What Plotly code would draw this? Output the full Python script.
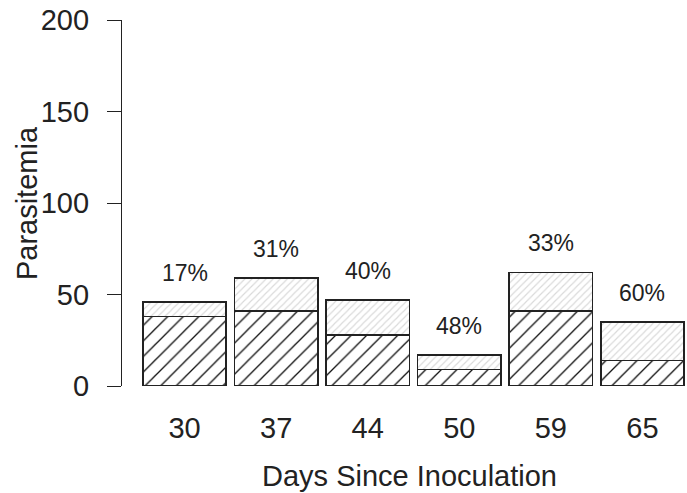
import plotly.graph_objects as go

# ---- data ----
days = ["30", "37", "44", "50", "59", "65"]
total_parasitemia = [46, 59, 47, 17, 62, 35]
lower_parasitemia = [38, 41, 28, 9, 41, 14]
pct_labels = ["17%", "31%", "40%", "48%", "33%", "60%"]

upper_parasitemia = [t - l for t, l in zip(total_parasitemia, lower_parasitemia)]
xpos = [0.6 + i * 1.1 for i in range(len(days))]

FONT = "Liberation Sans, Arial, Helvetica, sans-serif"
EDGE = "#222222"

fig = go.Figure()
fig.add_trace(go.Bar(
    x=xpos, y=lower_parasitemia, width=1.0,
    marker=dict(color="white",
                line=dict(color=EDGE, width=1.5),
                pattern=dict(shape="/", fgcolor="#111111", bgcolor="white",
                             size=11, solidity=0.12, fillmode="replace")),
    showlegend=False, hoverinfo="skip"))
fig.add_trace(go.Bar(
    x=xpos, y=upper_parasitemia, width=1.0,
    marker=dict(color="white",
                line=dict(color=EDGE, width=1.5),
                pattern=dict(shape="/", fgcolor="#d9d9d9", bgcolor="white",
                             size=5, solidity=0.22, fillmode="replace")),
    showlegend=False, hoverinfo="skip"))

for x, t, lab in zip(xpos, total_parasitemia, pct_labels):
    fig.add_annotation(x=x, y=t + 16, xref="x", yref="y", text=lab,
                       showarrow=False, yanchor="middle",
                       font=dict(family=FONT, size=23, color="#222222"))

fig.add_annotation(x=3.30, y=-0.245, xref="x", yref="paper",
                   text="Days Since Inoculation", showarrow=False,
                   yanchor="middle", font=dict(family=FONT, size=29, color="#222222"))
fig.add_annotation(x=-0.168, y=0.5, xref="paper", yref="paper",
                   text="Parasitemia", showarrow=False, textangle=-90,
                   xanchor="center", yanchor="middle",
                   font=dict(family=FONT, size=29, color="#222222"))

fig.update_layout(
    width=687, height=493,
    margin=dict(l=122, r=0, t=20, b=107),
    plot_bgcolor="white", paper_bgcolor="white",
    barmode="stack",
    font=dict(family=FONT, size=29, color="#222222"),
    xaxis=dict(range=[-0.152, 6.636], tickvals=xpos, ticktext=days,
               showline=False, showgrid=False, zeroline=False, ticks="",
               ticklabelstandoff=22, tickfont=dict(size=29)),
    yaxis=dict(range=[0, 200], tickvals=[0, 50, 100, 150, 200],
               showline=True, linecolor=EDGE, linewidth=1.3,
               ticks="outside", ticklen=14, tickwidth=1.3, tickcolor=EDGE,
               showgrid=False, zeroline=False,
               ticklabelstandoff=12, tickfont=dict(size=29)),
)

fig.write_html("out.html")
